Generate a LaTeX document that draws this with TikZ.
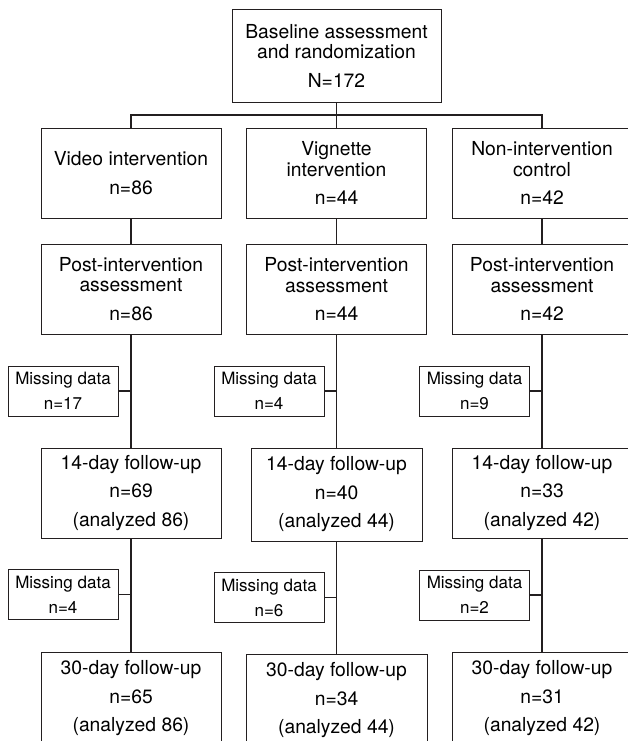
\documentclass[tikz,border=0pt]{standalone}
\usepackage{fontspec}
\setmainfont{TeX Gyre Heros}
\definecolor{ink}{RGB}{35,31,32}

\begin{document}
\begin{tikzpicture}[x=1pt,y=-1pt,
    stage/.style={draw=ink,line width=0.9pt,align=center,inner sep=2pt,
      minimum width=180pt,minimum height=90pt,
      font=\fontsize{19.3}{20.5}\selectfont},
    lost/.style={draw=ink,line width=0.9pt,align=center,inner sep=2pt,
      minimum width=110pt,minimum height=50pt,
      font=\fontsize{17}{21}\selectfont},
    link/.style={draw=ink,line width=1.3pt}]
    \useasboundingbox (0,0) rectangle (627,741);

    % baseline and the three arms
    \node[stage,minimum width=209pt,minimum height=93pt] (base) at (336.5,55.5)
      {Baseline assessment\\and randomization\\[8pt]N=172};
    \node[stage] (video) at (131,173) {Video intervention\\[8pt]n=86};
    \node[stage] (vign) at (336.5,173) {Vignette\\intervention\\[8pt]n=44};
    \node[stage] (ctrl) at (542,173) {Non-intervention\\control\\[8pt]n=42};

    % post-intervention
    \node[stage] (videopost) at (131,289) {Post-intervention\\assessment\\[8pt]n=86};
    \node[stage] (vignpost) at (336.5,289) {Post-intervention\\assessment\\[8pt]n=44};
    \node[stage] (ctrlpost) at (542,289) {Post-intervention\\assessment\\[8pt]n=42};

    \node[lost] (videomissA) at (63,391) {Missing data\\[4pt]n=17};
    \node[lost] (vignmissA) at (269,391) {Missing data\\[4pt]n=4};
    \node[lost] (ctrlmissA) at (474.5,391) {Missing data\\[4pt]n=9};

    % 14-day
    \node[stage] (video14) at (131,493) {14-day follow-up\\[8pt]n=69\\[8pt](analyzed 86)};
    \node[stage,minimum width=171pt,minimum height=93pt] (vign14) at (336.5,494.5)
      {14-day follow-up\\[8pt]n=40\\[8pt](analyzed 44)};
    \node[stage] (ctrl14) at (542,493) {14-day follow-up\\[8pt]n=33\\[8pt](analyzed 42)};

    \node[lost] (videomissB) at (63,594.5) {Missing data\\[4pt]n=4};
    \node[lost] (vignmissB) at (269,597.5) {Missing data\\[4pt]n=6};
    \node[lost] (ctrlmissB) at (474.5,595) {Missing data\\[4pt]n=2};

    % 30-day
    \node[stage,minimum height=93pt] (video30) at (131,698.5)
      {30-day follow-up\\[8pt]n=65\\[8pt](analyzed 86)};
    \node[stage,minimum width=181pt,minimum height=93pt] (vign30) at (336.5,700.5)
      {30-day follow-up\\[8pt]n=34\\[8pt](analyzed 44)};
    \node[stage,minimum height=93pt] (ctrl30) at (542,698.5)
      {30-day follow-up\\[8pt]n=31\\[8pt](analyzed 42)};

    \coordinate (busL) at (131,115);
    \coordinate (busR) at (542,115);
    \draw[link] (base.south) -- (vign.north);
    \draw[link] (video.north) -- (busL) -- (busR) -- (ctrl.north);

    \foreach \g in {video,vign,ctrl}{
      \draw[link] (\g.south) -- (\g post.north);
      \draw[link] (\g post.south) -- (\g 14.north);
      \draw[link] (\g 14.south) -- (\g 30.north);
      \draw[link] (\g missA.east) -- (\g missA.east -| \g post.south);
      \draw[link] (\g missB.east) -- (\g missB.east -| \g 14.south);
    }
  \end{tikzpicture}
\end{document}
